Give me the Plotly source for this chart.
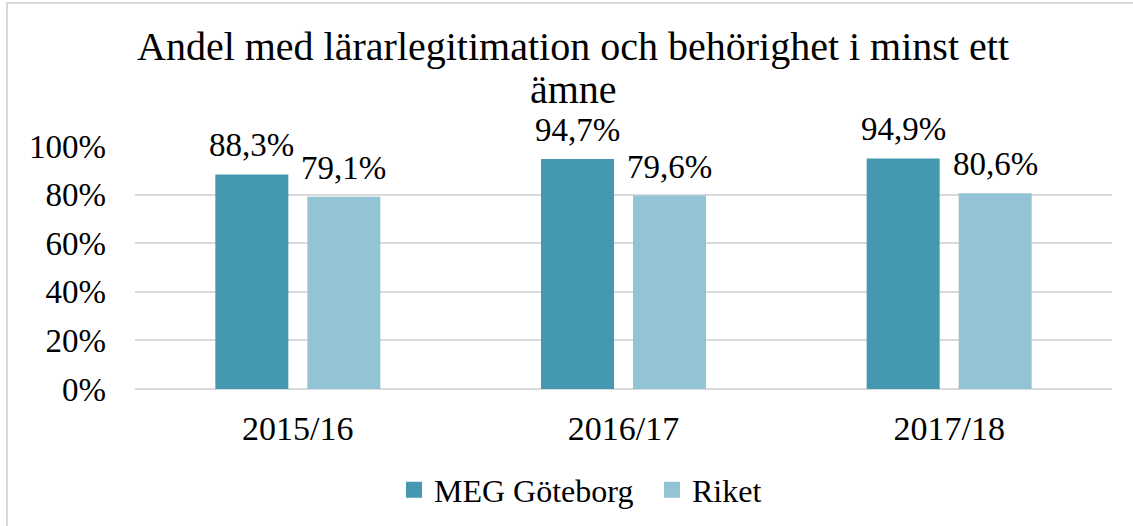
import plotly.graph_objects as go

categories = ["2015/16", "2016/17", "2017/18"]
meg_values = [0.883, 0.947, 0.949]
riket_values = [0.791, 0.796, 0.806]
series_names = ["MEG Göteborg", "Riket"]
title_lines = ["Andel med lärarlegitimation och behörighet i minst ett", "ämne"]
y_ticks = [0, 0.2, 0.4, 0.6, 0.8, 1.0]

DARK = "#4499B1"
LIGHT = "#93C4D5"
FONT = "Liberation Serif"

W, H = 1133, 526
L, R, T, B = 135, 21, 146, 137
pw = W - L - R
ph = H - T - B
BARGAP = 0.435
BARGROUPGAP = 0.2065

def px_x(p):
    return (p - L) / pw

def px_y(p):
    return 1 + (T - p) / ph

fig = go.Figure()
series = [(series_names[0], meg_values, DARK), (series_names[1], riket_values, LIGHT)]
for name, vals, col in series:
    fig.add_trace(go.Bar(
        x=categories, y=vals, name=name, marker_color=col, marker_line_width=0,
        showlegend=False,
    ))
    fig.add_trace(go.Scatter(
        x=[None], y=[None], mode="markers", name=name,
        marker=dict(symbol="square", size=16, color=col),
    ))

# data labels above each bar
cat_px = pw / len(categories)
slot_px = cat_px * (1 - BARGAP) / 2
annotations = []
for i, (name, vals, col) in enumerate(series):
    shift = (i - 0.5) * slot_px
    for c, v in zip(categories, vals):
        annotations.append(dict(
            x=c, y=v, xref="x", yref="y", text=f"{v*100:.1f}%".replace(".", ","),
            showarrow=False, xanchor="center", yanchor="bottom", xshift=shift, yshift=9,
            font=dict(family=FONT, size=33, color="#000000"),
        ))

annotations += [
    dict(text=title_lines[0], xref="paper", yref="paper", x=px_x(573), y=px_y(46.5),
         xanchor="center", yanchor="middle", showarrow=False,
         font=dict(family=FONT, size=40, color="#000000")),
    dict(text=title_lines[1], xref="paper", yref="paper", x=px_x(573), y=px_y(89.5),
         xanchor="center", yanchor="middle", showarrow=False,
         font=dict(family=FONT, size=40, color="#000000")),
]

fig.update_layout(
    width=W, height=H,
    margin=dict(l=L, r=R, t=T, b=B, autoexpand=False),
    paper_bgcolor="white", plot_bgcolor="white",
    separators=", ",
    barmode="group", bargap=BARGAP, bargroupgap=BARGROUPGAP,
    font=dict(family=FONT, size=32, color="#000000"),
    showlegend=True,
    legend=dict(orientation="h", x=px_x(652), xanchor="center", y=px_y(490), yanchor="middle",
                font=dict(family=FONT, size=32, color="#000000"), itemwidth=30,
                entrywidth=213, entrywidthmode="pixels",
                bgcolor="rgba(0,0,0,0)"),
    xaxis=dict(showgrid=False, showline=False, ticks="", ticklabelstandoff=16,
               tickfont=dict(family=FONT, size=34)),
    yaxis=dict(range=[0, 1], tickvals=y_ticks, tickformat=".0%", showgrid=True,
               gridcolor="#D9D9D9", gridwidth=2, zeroline=True, zerolinecolor="#D9D9D9",
               zerolinewidth=2, showline=False, ticks="", ticklabelstandoff=28,
               tickfont=dict(family=FONT, size=33)),
    annotations=annotations,
    shapes=[dict(type="rect", xref="paper", yref="paper", x0=px_x(7), x1=px_x(1145),
                 y0=px_y(540), y1=px_y(3), line=dict(color="#D9D9D9", width=2),
                 fillcolor="rgba(0,0,0,0)", layer="below")],
)

fig.write_html("out.html")
